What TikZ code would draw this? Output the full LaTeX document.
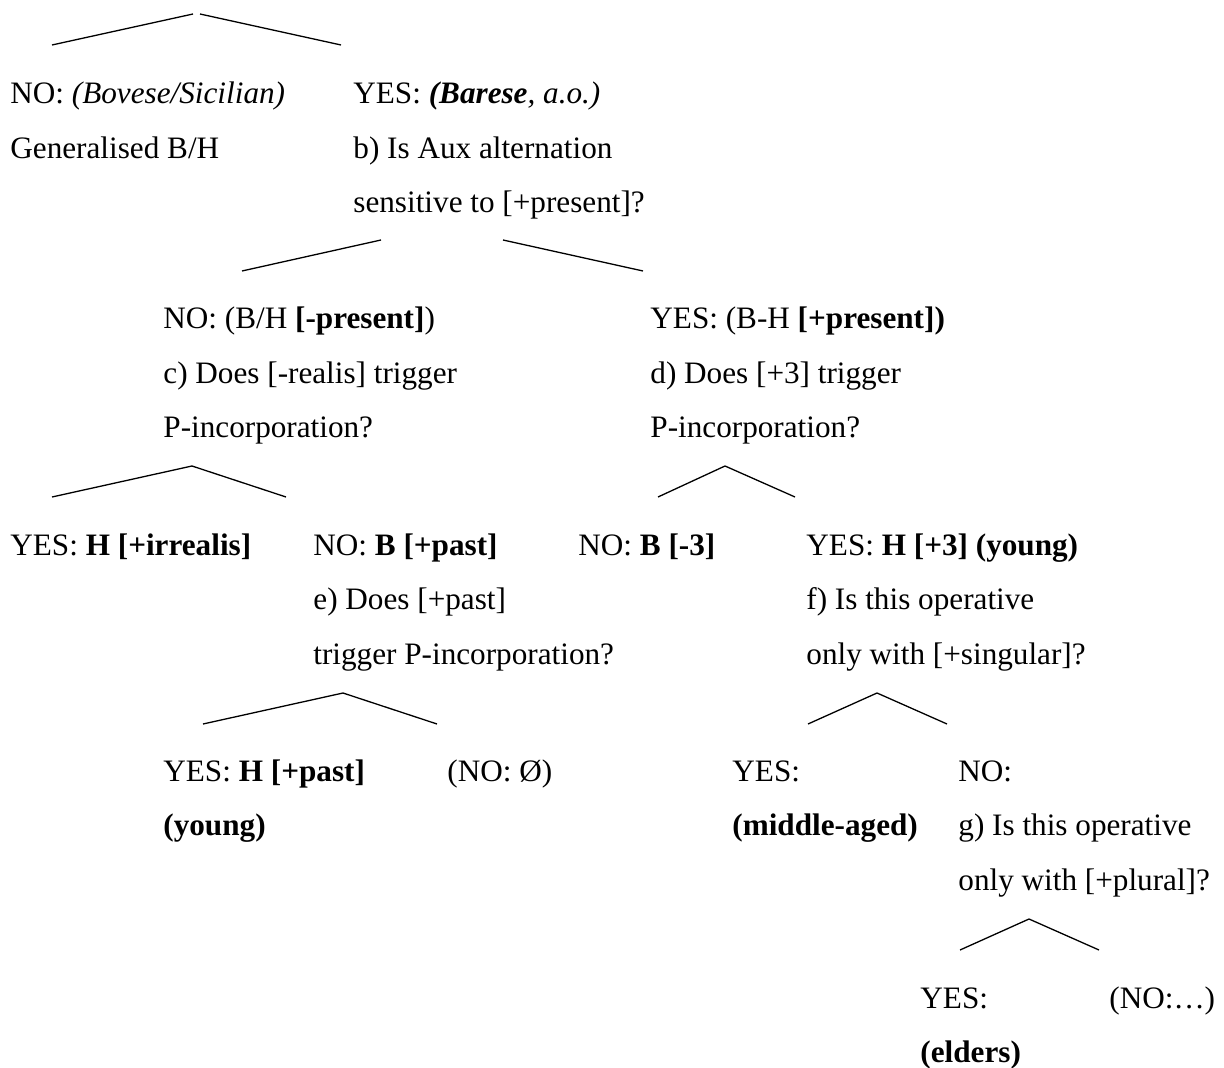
\documentclass[tikz,border=0pt]{standalone}
\usepackage{fontspec}
\setmainfont{Liberation Serif}

\begin{document}
\begin{tikzpicture}[x=0.5pt, y=-0.5pt,
  txt/.style={anchor=base west, inner sep=0pt, align=left,
              font=\fontsize{15.6}{27.25}\selectfont},
  l2/.style={yshift=-27.25pt},
  l3/.style={yshift=-54.5pt},
  branch/.style={line width=0.65pt}
]
\useasboundingbox (0,0) rectangle (1224,1068);

% Split a
\coordinate (aL) at (52,45);
\coordinate (aTopL) at (193,14);
\coordinate (aTopR) at (200,14);
\coordinate (aR) at (341,45);
\draw[branch] (aL) -- (aTopL);
\draw[branch] (aTopR) -- (aR);

\node[txt, l2] (aNo) at (10,104) {NO: \textit{(Bovese/Sicilian)}\\Generalised B/H};
\node[txt, l3] (aYes) at (353,104) {YES: \textit{\textbf{(Barese}, a.o.)}\\b) Is Aux alternation\\sensitive to [+present]?};

% Split b
\coordinate (bL) at (242,271);
\coordinate (bTopL) at (381,240);
\coordinate (bTopR) at (503,240);
\coordinate (bR) at (643,271);
\draw[branch] (bL) -- (bTopL);
\draw[branch] (bTopR) -- (bR);

\node[txt, l3] (bNo) at (163,329) {NO: (B/H \textbf{[-present]})\\c) Does [-realis] trigger\\P-incorporation?};
\node[txt, l3] (bYes) at (650,329) {YES: (B-H \textbf{[+present])}\\d) Does [+3] trigger\\P-incorporation?};

% Splits c and d
\coordinate (cL) at (52,497);
\coordinate (cTop) at (192,466);
\coordinate (cR) at (286,497);
\draw[branch] (cL) -- (cTop) -- (cR);
\coordinate (dL) at (658,497);
\coordinate (dTop) at (725,466);
\coordinate (dR) at (795,497);
\draw[branch] (dL) -- (dTop) -- (dR);

\node[txt] (cYes) at (10,555) {YES: \textbf{H [+irrealis]}};
\node[txt, l3] (cNo) at (313,555) {NO: \textbf{B [+past]}\\e) Does [+past]\\trigger P-incorporation?};
\node[txt] (dNo) at (578,555) {NO: \textbf{B [-3]}};
\node[txt, l3] (dYes) at (806,555) {YES: \textbf{H [+3] (young)}\\f) Is this operative\\only with [+singular]?};

% Splits e and f
\coordinate (eL) at (203,724);
\coordinate (eTop) at (343,693);
\coordinate (eR) at (437,724);
\draw[branch] (eL) -- (eTop) -- (eR);
\coordinate (fL) at (808,724);
\coordinate (fTop) at (877,693);
\coordinate (fR) at (947,724);
\draw[branch] (fL) -- (fTop) -- (fR);

\node[txt, l2] (eYes) at (163,781) {YES: \textbf{H [+past]}\\\textbf{(young)}};
\node[txt] (eNo) at (447,781) {(NO: Ø)};
\node[txt, l2] (fYes) at (732,781) {YES:\\\textbf{(middle-aged)}};
\node[txt, l3] (fNo) at (958,781) {NO:\\g) Is this operative\\only with [+plural]?};

% Split g
\coordinate (gL) at (960,950);
\coordinate (gTop) at (1029,919);
\coordinate (gR) at (1099,950);
\draw[branch] (gL) -- (gTop) -- (gR);

\node[txt, l2] (gYes) at (920,1008) {YES:\\\textbf{(elders)}};
\node[txt] (gNo) at (1109,1008) {(NO:…)};
\end{tikzpicture}
\end{document}
